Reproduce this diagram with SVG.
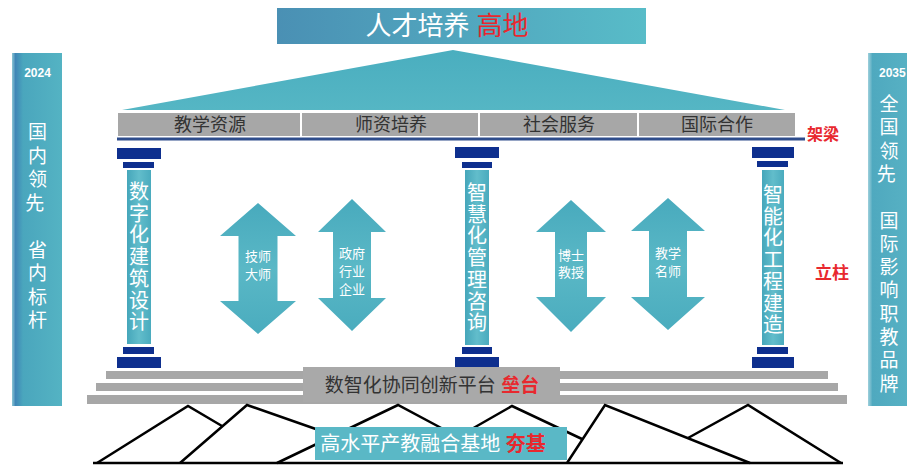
<svg xmlns="http://www.w3.org/2000/svg" width="907" height="466" viewBox="0 0 907 466">
<defs>
<linearGradient id="gTop" x1="0" y1="0" x2="1" y2="0"><stop offset="0" stop-color="#4a90b4"/><stop offset="1" stop-color="#58bcc8"/></linearGradient>
<linearGradient id="gTri" x1="0" y1="0" x2="0" y2="1"><stop offset="0" stop-color="#4aaebf"/><stop offset="1" stop-color="#55b6c4"/></linearGradient>
<linearGradient id="gShaft" x1="0" y1="0" x2="1" y2="0"><stop offset="0" stop-color="#45a6ba"/><stop offset="0.5" stop-color="#62bdcb"/><stop offset="1" stop-color="#4aabbe"/></linearGradient>
<linearGradient id="gArrow" x1="0" y1="0" x2="0" y2="1"><stop offset="0" stop-color="#48aabd"/><stop offset="0.5" stop-color="#5ab8c6"/><stop offset="1" stop-color="#4aacbe"/></linearGradient>
<linearGradient id="gLeft" x1="0" y1="0" x2="1" y2="0"><stop offset="0" stop-color="#8cc6d4"/><stop offset="0.07" stop-color="#3f86b6"/><stop offset="0.22" stop-color="#4aa6bd"/><stop offset="1" stop-color="#54b3c3"/></linearGradient>
<linearGradient id="gRight" x1="0" y1="0" x2="1" y2="0"><stop offset="0" stop-color="#9fd0dc"/><stop offset="0.1" stop-color="#4fa9bf"/><stop offset="1" stop-color="#58b2c4"/></linearGradient>
</defs>
<style>
.cjk{font-family:'Liberation Sans','Noto Sans CJK SC',sans-serif}
.w{fill:#ffffff}
.red{fill:#e8282e}
.dk{fill:#333333}
.navy{fill:#0e2f8e}
.shaft{fill:url(#gShaft)}
.arrow{fill:url(#gArrow)}
.gray{fill:#a7a7a7}
.mt{fill:none;stroke:#000;stroke-width:2.5;stroke-linejoin:miter}
</style>

<g id="left-panel">
<rect x="12" y="53" width="50" height="353" fill="url(#gLeft)"/>
<text class="cjk w" x="37.5" y="77" font-size="12" font-weight="bold" text-anchor="middle">2024</text>
<text class="cjk w" font-size="19" text-anchor="middle">
<tspan x="37.5" y="139">国</tspan><tspan x="37.5" y="162.5">内</tspan><tspan x="37.5" y="186">领</tspan><tspan x="37.5" y="209.5">先</tspan>
<tspan x="37.5" y="256.5">省</tspan><tspan x="37.5" y="280">内</tspan><tspan x="37.5" y="303.5">标</tspan><tspan x="37.5" y="327">杆</tspan>
</text>
</g>

<g id="right-panel">
<rect x="868" y="53" width="45" height="353" fill="url(#gRight)"/>
<text class="cjk w" x="879" y="77" font-size="12" font-weight="bold">2035</text>
<text class="cjk w" font-size="19" text-anchor="middle">
<tspan x="889" y="111">全</tspan><tspan x="889" y="134.3">国</tspan><tspan x="889" y="157.6">领</tspan><tspan x="889" y="180.9">先</tspan>
<tspan x="889" y="227.5">国</tspan><tspan x="889" y="250.8">际</tspan><tspan x="889" y="274.1">影</tspan><tspan x="889" y="297.4">响</tspan><tspan x="889" y="320.7">职</tspan><tspan x="889" y="344">教</tspan><tspan x="889" y="367.3">品</tspan><tspan x="889" y="390.6">牌</tspan>
</text>
</g>

<g id="top-goal">
<rect x="277" y="8" width="369" height="36" fill="url(#gTop)"/>
<text class="cjk" x="447" y="35" font-size="26" text-anchor="middle"><tspan class="w">人才培养 </tspan><tspan class="red">高地</tspan></text>
</g>

<g id="roof">
<polygon points="453,50 785,110 122,110" fill="url(#gTri)"/>
</g>

<g id="beam">
<rect class="gray" x="118" y="113" width="182" height="23"/>
<rect class="gray" x="302" y="113" width="176" height="23"/>
<rect class="gray" x="480" y="113" width="157" height="23"/>
<rect class="gray" x="639" y="113" width="156" height="23"/>
<text class="cjk dk" font-size="18" text-anchor="middle" y="131">
<tspan x="210">教学资源</tspan><tspan x="391">师资培养</tspan><tspan x="559">社会服务</tspan><tspan x="717">国际合作</tspan>
</text>
<rect x="117" y="137.5" width="688" height="3" fill="#2e4d8c"/>
<text class="cjk red" x="807" y="140" font-size="16" font-weight="bold">架梁</text>
</g>

<g id="pillar-left">
<rect class="navy" x="117" y="148" width="44" height="11"/>
<rect class="navy" x="123" y="162" width="31" height="6"/>
<rect class="shaft" x="127" y="170" width="24" height="174"/>
<rect class="navy" x="123" y="347" width="31" height="7"/>
<rect class="navy" x="117" y="357" width="44" height="11"/>
<text class="cjk w" font-size="20" text-anchor="middle">
<tspan x="139" y="199">数</tspan><tspan x="139" y="220.7">字</tspan><tspan x="139" y="242.4">化</tspan><tspan x="139" y="264.1">建</tspan><tspan x="139" y="285.8">筑</tspan><tspan x="139" y="307.5">设</tspan><tspan x="139" y="329.2">计</tspan>
</text>
</g>

<g id="pillar-middle">
<rect class="navy" x="455" y="147" width="44" height="11"/>
<rect class="navy" x="462" y="162" width="30" height="6"/>
<rect class="shaft" x="465" y="170" width="24" height="175"/>
<rect class="navy" x="462" y="347" width="30" height="7"/>
<rect class="navy" x="455" y="357" width="44" height="11"/>
<text class="cjk w" font-size="20" text-anchor="middle">
<tspan x="477" y="200">智</tspan><tspan x="477" y="221.7">慧</tspan><tspan x="477" y="243.4">化</tspan><tspan x="477" y="265.1">管</tspan><tspan x="477" y="286.8">理</tspan><tspan x="477" y="308.5">咨</tspan><tspan x="477" y="330.2">询</tspan>
</text>
</g>

<g id="pillar-right">
<rect class="navy" x="752" y="147" width="42" height="11"/>
<rect class="navy" x="757" y="161" width="31" height="6"/>
<rect class="shaft" x="762" y="170" width="22" height="175"/>
<rect class="navy" x="757" y="347" width="31" height="7"/>
<rect class="navy" x="752" y="357" width="42" height="11"/>
<text class="cjk w" font-size="20" text-anchor="middle">
<tspan x="773" y="202">智</tspan><tspan x="773" y="223.7">能</tspan><tspan x="773" y="245.4">化</tspan><tspan x="773" y="267.1">工</tspan><tspan x="773" y="288.8">程</tspan><tspan x="773" y="310.5">建</tspan><tspan x="773" y="332.2">造</tspan>
</text>
<text class="cjk red" x="815" y="279" font-size="17" font-weight="bold">立柱</text>
</g>

<g id="connectors">
<polygon class="arrow" points="258,203 296,236 277.5,236 277.5,301 296,301 258,334 220,301 238.5,301 238.5,236 220,236"/>
<polygon class="arrow" points="352,199 386,232 371,232 371,298 386,298 352,331 318,298 333,298 333,232 318,232"/>
<polygon class="arrow" points="571,200 606,232 587,232 587,297 606,297 571,332 536,297 555,297 555,232 536,232"/>
<polygon class="arrow" points="668,198 705,231 687,231 687,297 705,297 668,330 631,297 649,297 649,231 631,231"/>
</g>

<g id="arrow-labels">
<text class="cjk w" font-size="13" text-anchor="middle"><tspan x="258" y="261">技师</tspan><tspan x="258" y="279">大师</tspan></text>
<text class="cjk w" font-size="13" text-anchor="middle"><tspan x="352" y="258">政府</tspan><tspan x="352" y="276">行业</tspan><tspan x="352" y="294">企业</tspan></text>
<text class="cjk w" font-size="13" text-anchor="middle"><tspan x="571" y="260">博士</tspan><tspan x="571" y="277">教授</tspan></text>
<text class="cjk w" font-size="13" text-anchor="middle"><tspan x="668" y="258">教学</tspan><tspan x="668" y="276">名师</tspan></text>
</g>

<g id="platform">
<rect class="gray" x="106" y="371" width="722" height="8"/>
<rect class="gray" x="96" y="383" width="742" height="8"/>
<rect class="gray" x="87" y="395" width="760" height="9"/>
<rect x="303" y="367" width="257" height="35" fill="#a9a9a9"/>
<text class="cjk" x="432" y="392" font-size="19" text-anchor="middle"><tspan class="dk">数智化协同创新平台 </tspan><tspan class="red" font-weight="bold">垒台</tspan></text>
</g>

<g id="foundation">
<polyline class="mt" points="97,463 188,406 222,426"/>
<polyline class="mt" points="180,463 247,405 330,434"/>
<polyline class="mt" points="277,463 398,405 445,430"/>
<polyline class="mt" points="470,430 512,406 582,439"/>
<polyline class="mt" points="567,463 605,405 750,463"/>
<polyline class="mt" points="688,438 748,405 841,463"/>
<line class="mt" x1="93" y1="463" x2="843" y2="463"/>
<rect x="315" y="427" width="252" height="33" fill="#5ab8c6"/>
<text class="cjk" x="433" y="451" font-size="20" text-anchor="middle"><tspan class="w">高水平产教融合基地 </tspan><tspan class="red" font-weight="bold">夯基</tspan></text>
</g>
</svg>
